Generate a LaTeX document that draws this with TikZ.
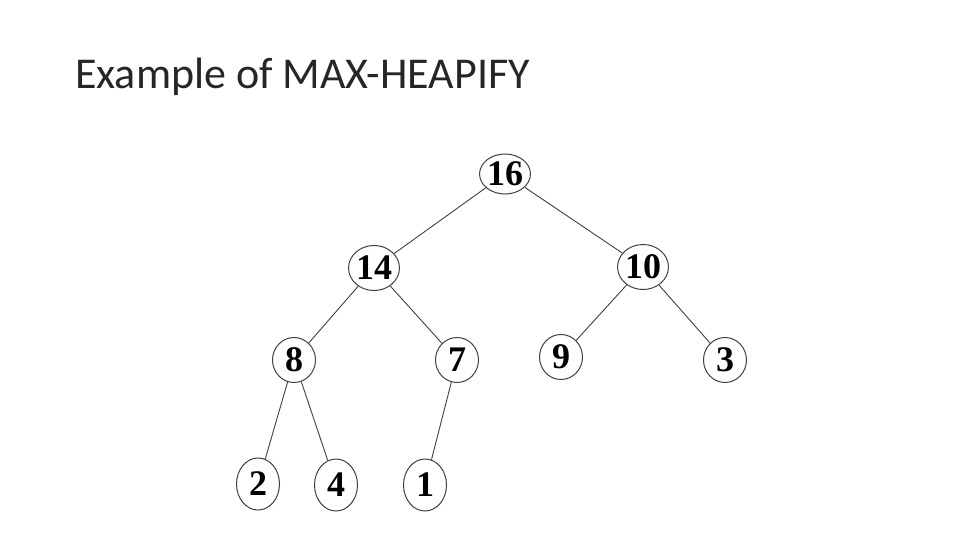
\documentclass[tikz,border=0pt]{standalone}
\usepackage{fontspec}
\setmainfont{Carlito}
\newfontfamily\keyfont{Liberation Serif}
\usetikzlibrary{shapes.geometric}

\begin{document}
\begin{tikzpicture}[x=1pt,y=-1pt,
    hnode/.style={ellipse, draw=black!75, line width=1pt, inner sep=0pt,
        minimum width=43pt, minimum height=#1,
        font=\keyfont\bfseries\fontsize{36}{36}\selectfont},
    hnode/.default=45pt,
    hedge/.style={draw=black!75, line width=0.9pt}]
    \useasboundingbox (0,0) rectangle (960,540);

    % Title
    \node[anchor=base west, inner sep=0pt, text=black!85, font=\fontsize{44}{44}\selectfont] (title) at (75,89) {Example of MAX-HEAPIFY};

    % Heap nodes, level by level
    \node[hnode=40pt] (n16) at (505,174) {16};
    \node[hnode] (n14) at (374,268) {14};
    \node[hnode] (n10) at (643,267) {10};
    \node[hnode] (n8) at (294,360) {8};
    \node[hnode] (n7) at (457,360) {7};
    \node[hnode] (n9) at (561,357) {9};
    \node[hnode] (n3) at (725,360) {3};
    \node[hnode=52pt] (n2) at (258,484) {2};
    \node[hnode=52pt] (n4) at (336,485) {4};
    \node[hnode=52pt] (n1) at (425,485) {1};

    % Edges
    \draw[hedge] (n16) -- (n14);
    \draw[hedge] (n16) -- (n10);
    \draw[hedge] (n14) -- (n8);
    \draw[hedge] (n14) -- (n7);
    \draw[hedge] (n10) -- (n9);
    \draw[hedge] (n10) -- (n3);
    \draw[hedge] (n8) -- (n2);
    \draw[hedge] (n8) -- (n4);
    \draw[hedge] (n7) -- (n1);
\end{tikzpicture}
\end{document}
